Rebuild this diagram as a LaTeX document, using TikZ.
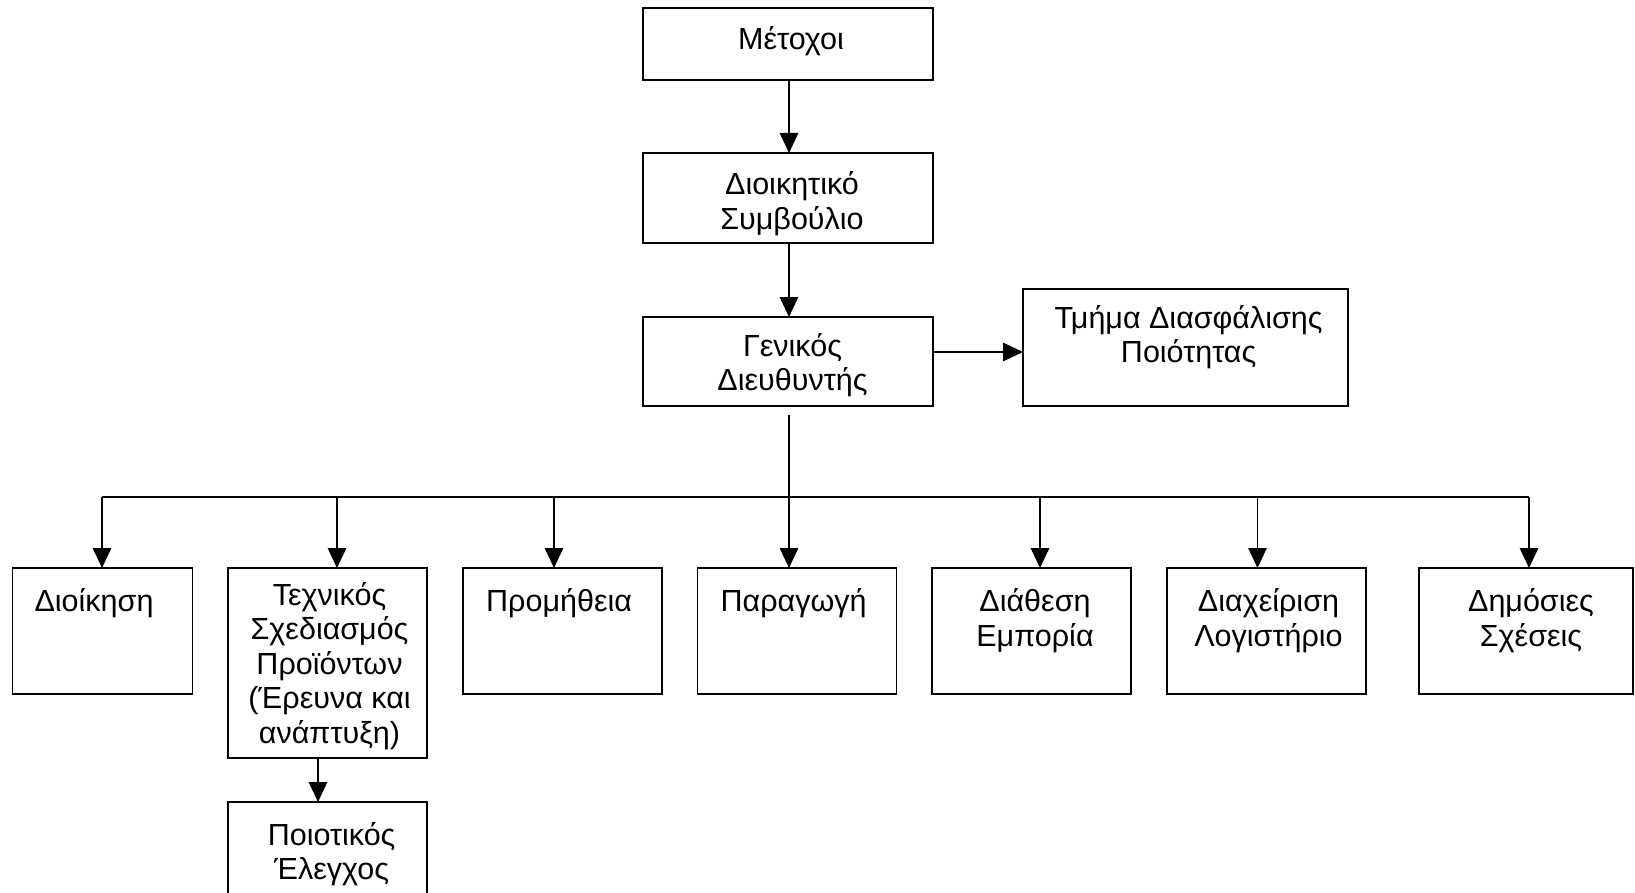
\documentclass[tikz,border=0pt]{standalone}
\usepackage{fontspec}
\setmainfont{Liberation Sans}
\usetikzlibrary{arrows.meta}
\newcommand\topstrut{\rule{0pt}{26pt}}
\begin{document}
\begin{tikzpicture}[x=1pt,y=-1pt,
  box/.style={draw, line width=1.4pt, inner sep=0pt, outer sep=0pt, anchor=north west},
  lbl/.style={font=\fontsize{30.5}{34.5}\selectfont, align=center, inner sep=0pt, anchor=north},
  lbll/.style={font=\fontsize{30.5}{34.5}\selectfont, align=left, inner sep=0pt, anchor=north west},
  wire/.style={line width=1.4pt},
  arr/.style={line width=1.4pt, -{Triangle[width=18.5pt,length=20pt]}}]
\useasboundingbox (0,0) rectangle (1635,893);

% top chain
\node[box, minimum width=290pt, minimum height=72pt] (mt) at (643,8) {};
\node[box, minimum width=290pt, minimum height=90pt] (ds) at (643,153) {};
\node[box, minimum width=290pt, minimum height=89pt] (gd) at (643,317) {};
\node[box, minimum width=325pt, minimum height=117pt] (tq) at (1023,289) {};

% department row
\node[box, minimum width=180pt, minimum height=126pt] (d1) at (12.5,568) {};
\node[box, minimum width=199pt, minimum height=190pt] (d2) at (228,568) {};
\node[box, minimum width=199pt, minimum height=126pt] (d3) at (463,568) {};
\node[box, minimum width=199pt, minimum height=126pt] (d4) at (697.5,568) {};
\node[box, minimum width=199pt, minimum height=126pt] (d5) at (932,568) {};
\node[box, minimum width=199pt, minimum height=126pt] (d6) at (1167,568) {};
\node[box, minimum width=214pt, minimum height=126pt] (d7) at (1419,568) {};
\node[box, minimum width=199pt, minimum height=120pt] (qc) at (228,802) {};

% labels
\node[lbl] (tmt) at (791,23.5) {\topstrut Μέτοχοι};
\node[lbl] (tds) at (792,168.5) {\topstrut Διοικητικό\\Συμβούλιο};
\node[lbl] (tgd) at (792.5,330) {\topstrut Γενικός\\Διευθυντής};
\node[lbl] (ttq) at (1188.6,302) {\topstrut Τμήμα Διασφάλισης\\Ποιότητας};
\node[lbll] (td1) at (34.4,585.6) {\topstrut Διοίκηση};
\node[lbl] (td2) at (329.5,579) {\topstrut Τεχνικός\\Σχεδιασμός\\Προϊόντων\\(Έρευνα και\\ανάπτυξη)};
\node[lbll] (td3) at (486,585.6) {\topstrut Προμήθεια};
\node[lbll] (td4) at (720.5,585.6) {\topstrut Παραγωγή};
\node[lbl] (td5) at (1035,585.6) {\topstrut Διάθεση\\Εμπορία};
\node[lbl] (td6) at (1268.5,585.6) {\topstrut Διαχείριση\\Λογιστήριο};
\node[lbl] (td7) at (1531,585.6) {\topstrut Δημόσιες\\Σχέσεις};
\node[lbl] (tqc) at (331.6,819) {\topstrut Ποιοτικός\\Έλεγχος};

% connectors
\coordinate (c0) at (789,0);
\draw[arr] (mt.south -| c0) -- (ds.north -| c0);
\draw[arr] (ds.south -| c0) -- (gd.north -| c0);
\coordinate (side) at (0,352);
\draw[arr] (gd.east |- side) -- (tq.west |- side);

\coordinate (stem) at (789,415);
\coordinate (b1) at (102,497);
\coordinate (b2) at (337,497);
\coordinate (b3) at (554,497);
\coordinate (b4) at (789,497);
\coordinate (b5) at (1040,497);
\coordinate (b6) at (1257.5,497);
\coordinate (b7) at (1529,497);
\draw[wire] (b1) -- (b7);
\draw[arr] (stem) -- (d4.north -| stem);
\draw[arr] (b1) -- (d1.north -| b1);
\draw[arr] (b2) -- (d2.north -| b2);
\draw[arr] (b3) -- (d3.north -| b3);
\draw[arr] (b5) -- (d5.north -| b5);
\draw[arr] (b6) -- (d6.north -| b6);
\draw[arr] (b7) -- (d7.north -| b7);
\coordinate (cq) at (318,0);
\draw[arr] (d2.south -| cq) -- (qc.north -| cq);
\end{tikzpicture}
\end{document}
